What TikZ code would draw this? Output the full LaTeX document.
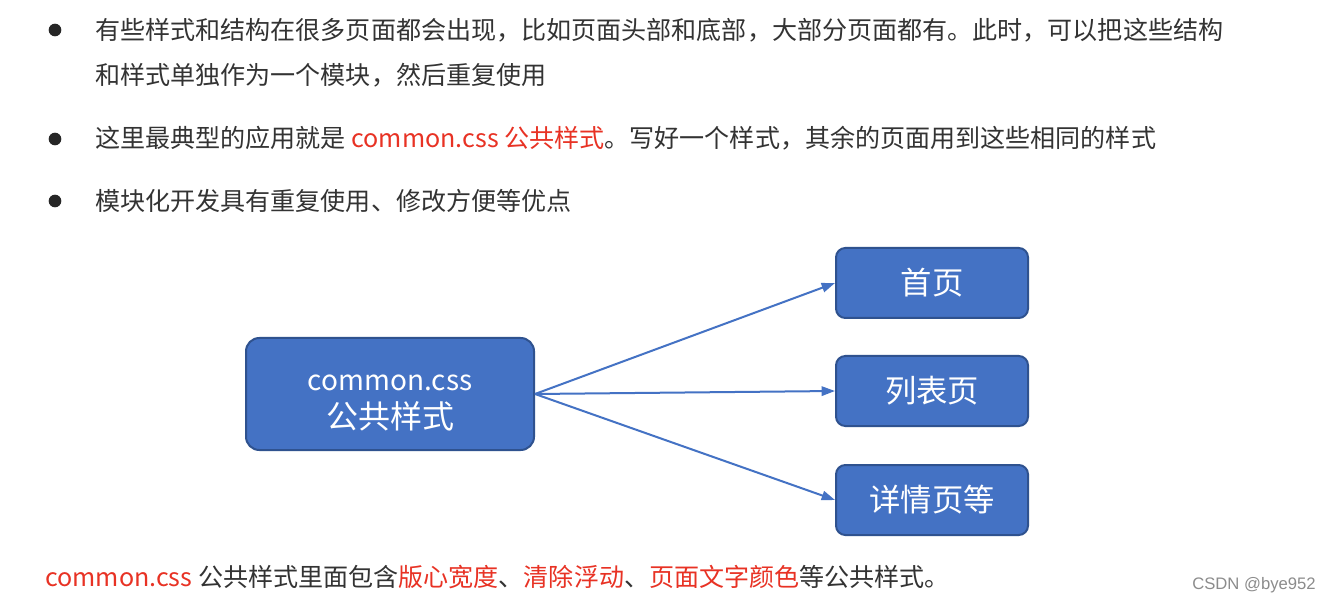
\documentclass[tikz,border=0pt]{standalone}
\usepackage{fontspec}
\setmainfont{Noto Sans CJK SC}
\newfontfamily\markfont{Liberation Sans}
\usepackage{tikz}
\usetikzlibrary{arrows.meta, positioning}
\definecolor{boxblue}{RGB}{68,114,196}
\definecolor{boxedge}{RGB}{47,82,143}
\definecolor{hlred}{RGB}{232,50,36}
\definecolor{txtgray}{RGB}{51,51,51}
\tikzstyle{module} = [draw=boxedge, fill=boxblue, line width=1.5pt, rounded corners=10pt,
  text=white, align=center, minimum width=216pt, minimum height=84pt, font=\fontsize{21}{28.5}\selectfont]
\tikzstyle{pagebox} = [draw=boxedge, fill=boxblue, line width=1.5pt, rounded corners=7pt,
  text=white, minimum width=144pt, minimum height=52.5pt, font=\fontsize{23.5}{28}\selectfont]
\tikzstyle{arrow} = [-{Triangle[length=10pt, width=7pt]}, draw=boxblue, line width=1.5pt]
\tikzstyle{dot} = [circle, fill=black!85, inner sep=0pt, minimum size=9.5pt]
\tikzstyle{line} = [anchor=west, inner sep=0pt, text=txtgray, font=\fontsize{18.8}{22}\selectfont]

\begin{document}
\begin{tikzpicture}[x=0.75pt, y=-0.75pt]
  \useasboundingbox[fill=white] (0,0) rectangle (1330,605);

  \node[dot] (d1) at (55,30) {};
  \node[dot] (d2) at (55,139) {};
  \node[dot] (d3) at (55,201) {};

  \node[line] (t1) at (95,30) {有些样式和结构在很多页面都会出现，比如页面头部和底部，大部分页面都有。此时，可以把这些结构};
  \node[line] (t1b) at (95,75) {和样式单独作为一个模块，然后重复使用};
  \node[line] (t2) at (95,138) {这里最典型的应用就是 \textcolor{hlred}{common.css 公共样式}。写好一个样式，其余的页面用到这些相同的样式};
  \node[line] (t3) at (95,201) {模块化开发具有重复使用、修改方便等优点};

  \node[module] (common) at (390,394) {\rule{0pt}{25pt}common.css\\{\fontsize{24}{28.5}\selectfont 公共样式}};

  \node[pagebox] (home) at (932,283) {首页};
  \node[pagebox] (list) at (932,391) {列表页};
  \node[pagebox] (detail) at (932,500) {详情页等};

  \draw[arrow] (common.east) -- (home.west);
  \draw[arrow] (common.east) -- (list.west);
  \draw[arrow] (common.east) -- (detail.west);

  \node[line] (note) at (45,577) {\textcolor{hlred}{common.css} 公共样式里面包含\textcolor{hlred}{版心宽度}、\textcolor{hlred}{清除浮动}、\textcolor{hlred}{页面文字颜色}等公共样式。};
  \node[anchor=east, inner sep=0pt, text=black!45, font=\markfont\fontsize{12.5}{14}\selectfont] (mark) at (1316,585) {CSDN @bye952};
\end{tikzpicture}
\end{document}
